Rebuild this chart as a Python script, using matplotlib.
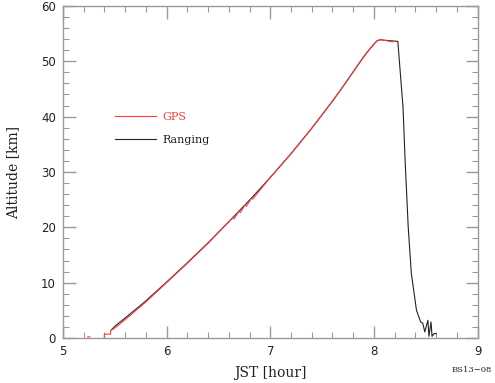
import numpy as np
import matplotlib.pyplot as plt
from matplotlib.ticker import MultipleLocator

# JST [hour] / Altitude [km]
gps_t = [5.24, 5.26, np.nan, 5.40, 5.40, 5.46, 5.46, 5.50, 5.60, 5.80,
         6.00, 6.20, 6.40, 6.60, 6.64, 6.65, 6.70, 6.71, 6.76, 6.77, 6.82, 6.83,
         7.00, 7.20, 7.40, 7.60, 7.70, 7.80, 7.90, 7.95, 8.00, 8.03, 8.06, 8.10, 8.18]
gps_alt = [0.2, 0.2, np.nan, 0.0, 0.7, 0.7, 1.3, 1.8, 3.3, 6.5,
           10.0, 13.5, 17.1, 21.0, 21.8, 21.5, 22.95, 22.65, 24.1, 23.8, 25.3, 25.1,
           29.0, 33.3, 37.9, 42.8, 45.4, 48.1, 50.8, 52.0, 53.1, 53.7, 53.9, 53.8, 53.5]

rng_t = [5.47, 5.50, 5.60, 5.80, 6.00, 6.20, 6.40, 6.60, 6.80,
         7.00, 7.20, 7.40, 7.60, 7.70, 7.80, 7.90, 7.95, 8.00, 8.03, 8.06,
         8.10, 8.23, 8.28, 8.30, 8.33, 8.36, 8.41, 8.45, 8.47, 8.49, 8.52,
         8.53, 8.55, 8.56, 8.58, 8.60]
rng_alt = [1.5, 2.1, 3.6, 6.7, 10.1, 13.6, 17.2, 21.0, 24.9,
           29.0, 33.3, 37.9, 42.8, 45.4, 48.1, 50.8, 52.0, 53.1, 53.7, 53.9,
           53.8, 53.6, 41.7, 32.2, 20.1, 11.7, 5.0, 2.9, 2.7, 1.1, 3.2,
           0.3, 2.9, 0.3, 0.8, 0.8]

fig = plt.figure(figsize=(4.95, 3.83), dpi=100)
ax = fig.add_axes([0.127, 0.1175, 0.838, 0.867])

l_rng, = ax.plot(rng_t, rng_alt, color="#222222", lw=0.8, label="Ranging")
l_gps, = ax.plot(gps_t, gps_alt, color="#ff3b3b", lw=0.8, label="GPS")

ax.set_xlim(5, 9)
ax.set_ylim(0, 60)
ax.xaxis.set_major_locator(MultipleLocator(1))
ax.xaxis.set_minor_locator(MultipleLocator(0.2))
ax.yaxis.set_major_locator(MultipleLocator(10))
ax.yaxis.set_minor_locator(MultipleLocator(2))

gray = "#9a9a9a"
for s in ax.spines.values():
    s.set_color(gray)
    s.set_linewidth(1.0)
ax.tick_params(which="both", direction="in", top=True, right=True, color=gray,
               labelsize=8.5, labelcolor="#222222")
ax.tick_params(which="major", length=9, width=1.0, pad=5)
ax.tick_params(which="minor", length=4, width=0.8)

ax.set_xlabel("JST [hour]", family="DejaVu Serif", fontsize=10, color="#222222", labelpad=6)
ax.set_ylabel("Altitude [km]", family="DejaVu Serif", fontsize=10, color="#222222", labelpad=15)

leg = ax.legend(handles=[l_gps, l_rng], loc="center left", bbox_to_anchor=(0.125, 0.631),
                frameon=False, borderpad=0, borderaxespad=0, handlelength=3.7,
                handletextpad=0.6, labelspacing=1.2, labelcolor="linecolor",
                prop={"family": "DejaVu Serif", "size": 8})

fig.text(0.953, 0.035, "BS13\u221208", family="DejaVu Serif", fontsize=6,
         ha="center", va="center", color="#222222")

fig.savefig("out.png", dpi=100)
